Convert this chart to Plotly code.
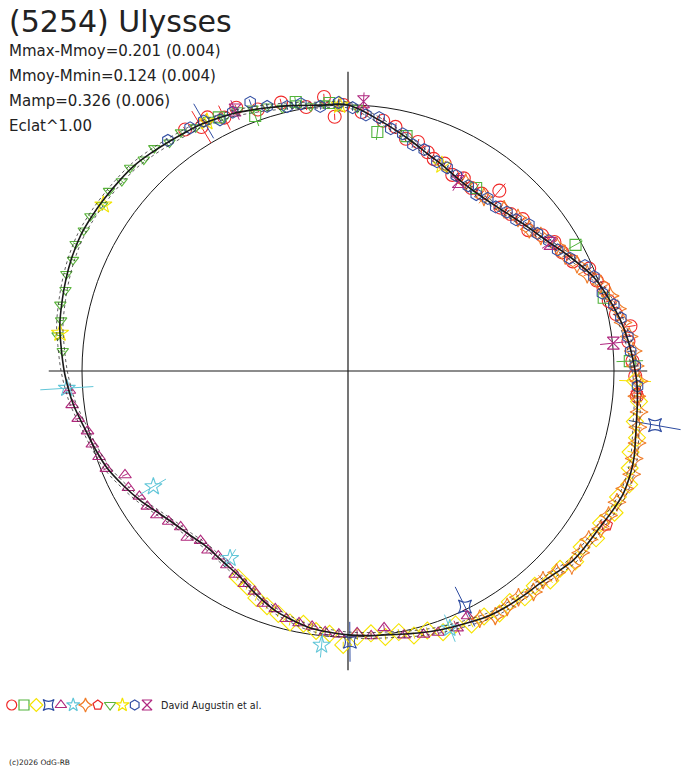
import plotly.graph_objects as go

# ---------------- data ----------------
TITLE = "(5254) Ulysses"
INFO_LINES = ["Mmax-Mmoy=0.201 (0.004)", "Mmoy-Mmin=0.124 (0.004)",
              "Mamp=0.326 (0.006)", "Eclat^1.00"]
LEGEND_TEXT = "David Augustin et al."
COPYRIGHT = "(c)2026 OdG-RB"

# fitted curve (phase in degrees, clockwise from top; relative flux radius)
CURVE_THETA = [0, 7, 15, 20, 25, 30, 36, 42, 50, 57, 63, 69, 74, 79, 84, 88, 92, 96,
               100, 104, 107, 110, 114, 118, 122, 126, 130, 134, 138, 142, 146, 150,
               154, 160, 165, 170, 175, 180, 185, 189, 193, 197, 202, 208, 213, 219,
               224, 229, 234, 238, 243, 248, 253, 257, 263, 266, 270, 275, 279, 284,
               288, 292, 297, 301, 305, 310, 314, 318, 322, 326, 329, 333, 336, 340,
               343, 348, 354, 360]
CURVE_R = [1.0, 0.951, 0.899, 0.87, 0.85, 0.832, 0.825, 0.833, 0.86, 0.895, 0.94, 0.988,
           1.015, 1.04, 1.06, 1.073, 1.086, 1.094, 1.101, 1.113, 1.124, 1.13, 1.133,
           1.124, 1.114, 1.11, 1.106, 1.09, 1.076, 1.072, 1.068, 1.062, 1.05, 1.034,
           1.02, 1.006, 0.998, 0.992, 0.983, 0.974, 0.958, 0.941, 0.91, 0.873, 0.858,
           0.848, 0.857, 0.871, 0.895, 0.92, 0.948, 0.976, 0.995, 1.01, 1.04, 1.052,
           1.067, 1.083, 1.097, 1.107, 1.115, 1.122, 1.127, 1.125, 1.122, 1.118, 1.114,
           1.104, 1.094, 1.085, 1.08, 1.068, 1.06, 1.045, 1.035, 1.02, 1.005, 1.0]
BAND = 0.011          # half-width of the dotted uncertainty band
REF_CIRCLE_R = 1.0
AXIS_EXT = 1.125

# observation series
RED_CIRCLE_THETA = [326, 329, 331, 334, 337, 341, 346, 351, 355, 357, 359, 3, 8, 11, 14, 17,
                    20, 22, 25, 28, 31, 34, 37, 40, 43, 46, 49, 52, 55, 58, 61, 64, 67, 70,
                    72, 75, 78, 81, 84, 88, 91, 95]
RED_CIRCLE_R = [1.095, 1.07, 1.09, 1.06, 1.075, 1.04, 1.04, 1.005, 1.034, 0.957, 1.0, 0.975,
                0.95, 0.935, 0.90, 0.90, 0.875, 0.86, 0.86, 0.835, 0.845, 0.83, 0.835, 0.885,
                0.84, 0.85, 0.87, 0.86, 0.89, 0.915, 0.92, 0.94, 0.985, 0.995, 1.01, 1.015,
                1.03, 1.075, 1.06, 1.07, 1.08, 1.09]
RED_CIRCLE_ERR = [0.012, 0.07, 0.015, 0.05, 0.012, 0.012, 0.015, 0.012, 0.012, 0.012,
                  0.012, 0.012, 0.012, 0.015, 0.012, 0.012, 0.012, 0.012, 0.012, 0.012,
                  0.012, 0.012, 0.012, 0.035, 0.012, 0.012, 0.012, 0.012, 0.012, 0.012,
                  0.012, 0.012, 0.012, 0.012, 0.012, 0.012, 0.012, 0.02, 0.012, 0.012,
                  0.012, 0.012]

GREEN_SQUARE_THETA = [333, 340, 349, 356, 7, 14, 35, 61, 74, 88]
GREEN_SQUARE_R = [1.07, 1.02, 1.03, 1.01, 0.905, 0.91, 0.84, 0.978, 1.0, 1.06]
GREEN_SQUARE_ERR = [0.012, 0.04, 0.02, 0.012, 0.03, 0.012, 0.02, 0.03, 0.012, 0.05]

YELLOW_DIAMOND_THETA = [92, 96, 100, 103, 106, 109, 112, 115, 118, 121, 124, 127, 130, 133,
                        136, 139, 142, 145, 148, 151, 154, 157, 160, 163, 166, 169, 172, 175,
                        178, 181, 184, 187, 190, 193, 196, 199, 202, 205, 208]
YELLOW_DIAMOND_R = [1.08, 1.10, 1.095, 1.115, 1.105, 1.12, 1.14, 1.12, 1.135, 1.11, 1.125,
                    1.10, 1.115, 1.09, 1.095, 1.07, 1.08, 1.06, 1.075, 1.055, 1.06, 1.035,
                    1.045, 1.02, 1.025, 1.0, 1.01, 0.99, 1.0, 1.03, 0.99, 0.985, 0.965, 0.97,
                    0.95, 0.935, 0.92, 0.895, 0.88]
YELLOW_DIAMOND_ERR = [0.06] + [0.012] * 38

BLUE_STARSQ_THETA = [100, 153.6, 179.6]
BLUE_STARSQ_R = [1.172, 0.989, 1.018]
BLUE_STARSQ_ERR = [0.1, 0.083, 0.075]

PURPLE_TRI_THETA = [154, 157, 161, 164, 168, 172, 175, 178, 182, 185, 188, 191, 194, 197,
                    200, 203, 206, 209, 212, 215, 218, 221, 224, 227, 230, 233, 236, 239,
                    242, 245, 248, 251, 254, 257, 260, 263, 266]
PURPLE_TRI_R = [1.025, 1.05, 1.04, 1.03, 1.015, 0.975, 1.0, 0.985, 0.99, 0.985, 0.97, 0.965,
                0.96, 0.935, 0.93, 0.9, 0.89, 0.875, 0.86, 0.85, 0.855, 0.845, 0.87, 0.86,
                0.88, 0.9, 0.91, 0.915, 0.935, 0.925, 0.98, 0.99, 1.0, 1.005, 1.03, 1.045,
                1.05]
PURPLE_TRI_ERR = [0.03, 0.03] + [0.012] * 35

CYAN_STAR_THETA = [266.5, 239.3, 212.2, 185.5, 158.4]
CYAN_STAR_R = [1.059, 0.851, 0.832, 1.035, 1.04]
CYAN_STAR_ERR = [0.1, 0.055, 0.04, 0.047, 0.055]

ORANGE_THETA = [32, 38, 44, 48, 52, 55, 59, 62, 65, 68, 71, 74, 77, 80, 83, 86, 89, 92, 95,
                98, 101, 104, 107, 110, 113, 116, 119, 122, 125, 128, 131, 134, 137, 140,
                143, 146, 149, 152]
ORANGE_R = [0.835, 0.83, 0.845, 0.86, 0.865, 0.885, 0.915, 0.925, 0.95, 0.97, 1.005, 1.025,
            1.04, 1.05, 1.065, 1.075, 1.08, 1.095, 1.09, 1.105, 1.11, 1.12, 1.125, 1.135,
            1.13, 1.125, 1.12, 1.12, 1.105, 1.11, 1.115, 1.09, 1.075, 1.085, 1.065, 1.07,
            1.075, 1.055]
ORANGE_ERR = [0.015, 0.03, 0.015, 0.015, 0.025, 0.015, 0.015, 0.015, 0.015, 0.015,
              0.015, 0.015, 0.015, 0.015, 0.015, 0.015, 0.015, 0.015, 0.03, 0.015,
              0.015, 0.015, 0.015, 0.015, 0.015, 0.015, 0.015, 0.015, 0.015, 0.015,
              0.015, 0.015, 0.025, 0.015, 0.015, 0.015, 0.015, 0.015]

RED_PENTAGON_THETA = [94.4, 120.8]
RED_PENTAGON_R = [1.089, 1.132]
RED_PENTAGON_ERR = [0.012, 0.012]

GREEN_TRIDOWN_THETA = [274, 277, 280, 283, 286, 289, 292, 295, 298, 301, 304, 307, 310, 313,
                       316, 319, 322, 325, 328, 331, 334, 337, 340, 343, 346, 349, 352, 355,
                       358, 2]
GREEN_TRIDOWN_R = [1.075, 1.10, 1.095, 1.11, 1.105, 1.12, 1.115, 1.13, 1.125, 1.13, 1.115,
                   1.125, 1.11, 1.12, 1.105, 1.11, 1.09, 1.095, 1.08, 1.08, 1.06, 1.065,
                   1.05, 1.04, 1.02, 1.025, 1.005, 1.01, 0.995, 0.99]
GREEN_TRIDOWN_ERR = [0.01] * 30

YELLOW_STAR_THETA = [330.5, 304.2, 277.5, 358.2, 24.5]
YELLOW_STAR_R = [1.077, 1.112, 1.092, 1.0, 0.851]
YELLOW_STAR_ERR = [0.012, 0.012, 0.012, 0.012, 0.012]

BLUE_HEX_THETA = [322, 327, 330, 333, 336, 340, 343, 347, 350, 354, 358, 1, 4, 7, 10, 13, 16,
                  19, 23, 26, 29, 33, 36, 39, 42, 45, 48, 51, 54, 57, 60, 63, 66, 69, 73, 76,
                  79, 83, 86, 89, 93]
BLUE_HEX_R = [1.10, 1.09, 1.085, 1.06, 1.065, 1.075, 1.04, 1.02, 1.02, 1.0, 1.01, 0.99,
              0.965, 0.96, 0.925, 0.915, 0.885, 0.88, 0.855, 0.85, 0.84, 0.83, 0.82, 0.835,
              0.83, 0.845, 0.85, 0.875, 0.88, 0.9, 0.91, 0.935, 0.975, 0.99, 1.0, 1.03,
              1.045, 1.06, 1.065, 1.08, 1.09]
BLUE_HEX_ERR = [0.012, 0.012, 0.075] + [0.012] * 38

PURPLE_ATOM_THETA = [3.3, 336.6, 30.2, 57.7, 84.0]
PURPLE_ATOM_R = [1.014, 1.069, 0.824, 0.898, 1.003]
PURPLE_ATOM_ERR = [0.035, 0.04, 0.04, 0.035, 0.05]

SERIES = [
    ("circle-open", "#f02a2a", 13, RED_CIRCLE_THETA, RED_CIRCLE_R, RED_CIRCLE_ERR),
    ("square-open", "#52b43c", 11, GREEN_SQUARE_THETA, GREEN_SQUARE_R, GREEN_SQUARE_ERR),
    ("diamond-open", "#f6e400", 13, YELLOW_DIAMOND_THETA, YELLOW_DIAMOND_R, YELLOW_DIAMOND_ERR),
    ("star-square-open", "#2c4aa0", 12, BLUE_STARSQ_THETA, BLUE_STARSQ_R, BLUE_STARSQ_ERR),
    ("triangle-up-open", "#b0287c", 11, PURPLE_TRI_THETA, PURPLE_TRI_R, PURPLE_TRI_ERR),
    ("star-open", "#62c6d8", 13, CYAN_STAR_THETA, CYAN_STAR_R, CYAN_STAR_ERR),
    ("star-diamond-open", "#f07c28", 13, ORANGE_THETA, ORANGE_R, ORANGE_ERR),
    ("pentagon-open", "#e8282a", 12, RED_PENTAGON_THETA, RED_PENTAGON_R, RED_PENTAGON_ERR),
    ("triangle-down-open", "#5ab43c", 10, GREEN_TRIDOWN_THETA, GREEN_TRIDOWN_R, GREEN_TRIDOWN_ERR),
    ("star-open", "#f2e400", 13, YELLOW_STAR_THETA, YELLOW_STAR_R, YELLOW_STAR_ERR),
    ("hexagon-open", "#3450a4", 12, BLUE_HEX_THETA, BLUE_HEX_R, BLUE_HEX_ERR),
    ("hourglass-open", "#b02880", 12, PURPLE_ATOM_THETA, PURPLE_ATOM_R, PURPLE_ATOM_ERR),
]

# ---------------- figure ----------------
W, H = 688, 768
CX, CY = 348, 371          # centre in px (from top-left)
UNIT = 266                 # px per unit radius
RMAX = 1.27
half = RMAX * UNIT
dom_x = [(CX - half) / W, (CX + half) / W]
dom_y = [(H - CY - half) / H, (H - CY + half) / H]

fig = go.Figure()

# cross-hair axes
fig.add_trace(go.Scatterpolar(
    r=[AXIS_EXT, 0, AXIS_EXT, None, AXIS_EXT, 0, AXIS_EXT],
    theta=[0, 0, 180, None, 90, 90, 270],
    mode="lines", line=dict(color="#1a1a1a", width=1.2),
    hoverinfo="skip", showlegend=False))

# error bars + markers
for sym, col, size, th, rr, ee in SERIES:
    et, er = [], []
    for t, v, e in zip(th, rr, ee):
        et += [t, t, None]
        er += [v - e, v + e, None]
    fig.add_trace(go.Scatterpolar(r=er, theta=et, mode="lines",
                                  line=dict(color=col, width=1),
                                  hoverinfo="skip", showlegend=False))
    fig.add_trace(go.Scatterpolar(r=rr, theta=th, mode="markers",
                                  marker=dict(symbol=sym, size=size, color=col,
                                              line=dict(color=col, width=1.1)),
                                  showlegend=False))

# fitted curve with dotted band
for k, (w, dash, col) in enumerate([(0.8, "dot", "#333333"), (0.8, "dot", "#333333"),
                                    (1.6, "solid", "#1a1a1a")]):
    fac = [1 + BAND, 1 - BAND, 1.0][k]
    fig.add_trace(go.Scatterpolar(
        r=[v * fac for v in CURVE_R], theta=CURVE_THETA, mode="lines",
        line=dict(color=col, width=w, dash=dash, shape="spline"),
        hoverinfo="skip", showlegend=False))

# legend symbols row (separate cartesian strip)
fig.add_trace(go.Scatter(
    x=list(range(len(SERIES))), y=[0] * len(SERIES), mode="markers",
    marker=dict(symbol=[s[0] for s in SERIES], color=[s[1] for s in SERIES], size=10,
                line=dict(color=[s[1] for s in SERIES], width=1.2)),
    xaxis="x", yaxis="y", showlegend=False, hoverinfo="skip"))

font_main = "DejaVu Sans, Arial, sans-serif"
annotations = [dict(text=TITLE, x=7 / W, y=1 - 21 / H, xref="paper", yref="paper",
                    xanchor="left", yanchor="middle", showarrow=False,
                    font=dict(size=30, color="#222222", family=font_main))]
for i, line in enumerate(INFO_LINES):
    annotations.append(dict(text=line, x=7 / W, y=1 - (51 + 25 * i) / H,
                            xref="paper", yref="paper", xanchor="left", yanchor="middle",
                            showarrow=False,
                            font=dict(size=15, color="#222222", family=font_main)))
annotations.append(dict(text=LEGEND_TEXT, x=159 / W, y=1 - 705 / H, xref="paper",
                        yref="paper", xanchor="left", yanchor="middle", showarrow=False,
                        font=dict(size=9.6, color="#222222", family=font_main)))
annotations.append(dict(text=COPYRIGHT, x=7 / W, y=1 - 762 / H, xref="paper",
                        yref="paper", xanchor="left", yanchor="middle", showarrow=False,
                        font=dict(size=7.5, color="#222222", family=font_main)))

step = 12.3
x0 = 11.7 - step / 2
fig.update_layout(
    width=W, height=H, margin=dict(l=0, r=0, t=0, b=0),
    paper_bgcolor="white", plot_bgcolor="rgba(0,0,0,0)",
    polar=dict(
        domain=dict(x=dom_x, y=dom_y),
        bgcolor="rgba(0,0,0,0)",
        radialaxis=dict(range=[0, RMAX], autorange=False, tickvals=[REF_CIRCLE_R],
                        showticklabels=False, ticks="", showline=False,
                        showgrid=True, gridcolor="#1a1a1a", gridwidth=1),
        angularaxis=dict(rotation=90, direction="clockwise", showgrid=False,
                         showline=False, showticklabels=False, ticks=""),
    ),
    xaxis=dict(domain=[x0 / W, (x0 + step * len(SERIES)) / W],
               range=[-0.5, len(SERIES) - 0.5], visible=False, fixedrange=True),
    yaxis=dict(domain=[(H - 717) / H, (H - 693) / H], range=[-1, 1], visible=False,
               fixedrange=True),
    annotations=annotations,
)

fig.write_html("out.html",
               config={"displayModeBar": False},
               post_script="document.body.style.margin='0';"
                           "document.body.style.overflow='hidden';")
